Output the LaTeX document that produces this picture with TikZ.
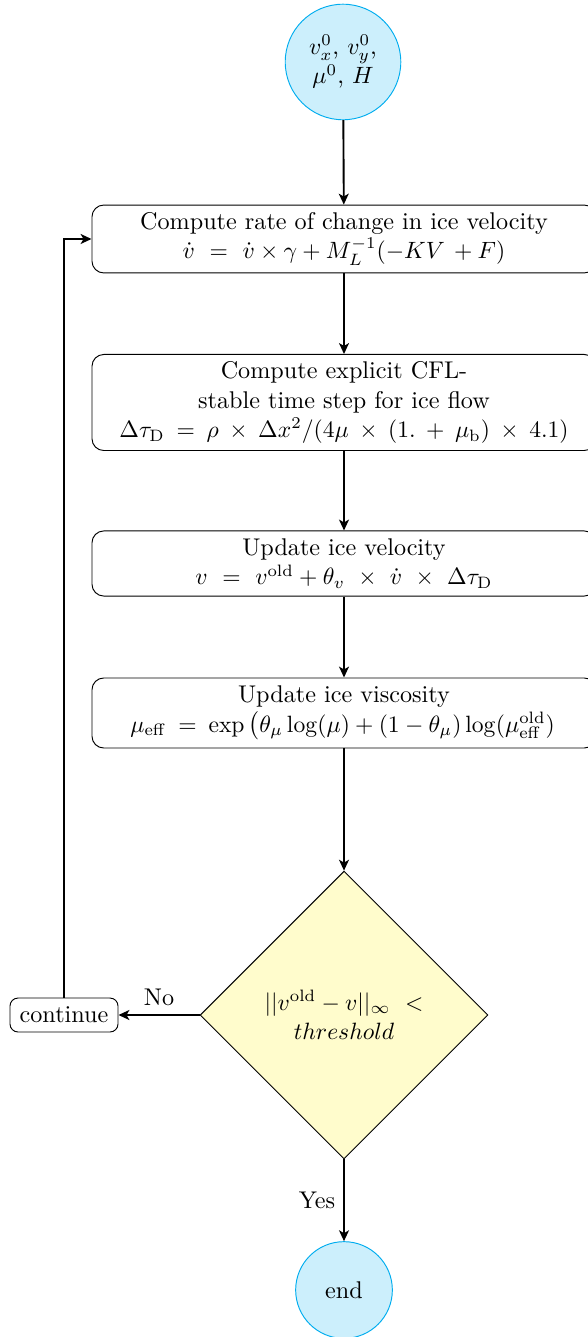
\documentclass[tikz,border=0pt]{standalone}
\usetikzlibrary{shapes.geometric,arrows.meta}
\begin{document}
\begin{tikzpicture}[x=0.424pt,y=-0.424pt,
  every node/.style={font=\fontsize{10.25pt}{12.5pt}\selectfont},
  procbox/.style={draw, thin, rounded corners=5pt, align=center, minimum width=213.7pt, inner sep=3pt},
  termcirc/.style={circle, draw=cyan, fill=cyan!20, align=center, inner sep=1pt},
  decbox/.style={diamond, draw, thin, fill=yellow!20, aspect=1, align=center, minimum size=122pt, inner sep=0pt},
  contbox/.style={draw, thin, rounded corners=3.4pt, minimum height=14.4pt, minimum width=45.8pt},
  arr/.style={thick, -{Stealth[length=4.6pt,width=4.2pt,inset=1.2pt]}}]
\useasboundingbox (0,0) rectangle (587,1337);
\node[termcirc, minimum size=49pt] (start) at (343,62) {$v_x^0$, $v_y^0$,\\ $\mu^0$, $H$};
\node[procbox, minimum height=28.8pt] (b1) at (344,239) {Compute rate of change in ice velocity\\ $\dot{v}\ =\ \dot{v}\times\gamma + M_L^{-1}(-KV\,+F)$};
\node[procbox, minimum height=40.3pt] (b2) at (344,402.5) {Compute explicit CFL-\\ stable time step for ice flow\\ $\Delta\tau_{\mathrm{D}}\:=\:\rho\:\times\:\Delta x^2/(4\mu\:\times\:(1.\:+\:\mu_{\mathrm{b}})\:\times\:4.1)$};
\node[procbox, minimum height=27.6pt] (b3) at (344,563.5) {Update ice velocity\\ $v\ =\ v^{\mathrm{old}}+\theta_v\ \times\ \dot{v}\ \times\ \Delta\tau_{\mathrm{D}}$};
\node[procbox, minimum height=29.7pt] (b4) at (344,713) {Update ice viscosity\\ $\mu_{\mathrm{eff}}\:=\:\exp\left(\theta_\mu\log(\mu)+(1-\theta_\mu)\log(\mu_{\mathrm{eff}}^{\mathrm{old}})\right.$};
\node[decbox] (dec) at (344,1015) {$||v^{\mathrm{old}}-v||_\infty\ <$\\ $threshold$};
\node[contbox] (cont) at (64,1015) {continue};
\node[termcirc, minimum size=41pt] (end) at (344,1290) {end};
\draw[arr] (start) -- (b1);
\draw[arr] (b1) -- (b2);
\draw[arr] (b2) -- (b3);
\draw[arr] (b3) -- (b4);
\draw[arr] (b4) -- (dec);
\draw[arr] (dec) -- node[above] {No} (cont);
\draw[arr] (dec) -- node[left] {Yes} (end);
\draw[arr] (cont.north) |- (b1.west);
\end{tikzpicture}
\end{document}
